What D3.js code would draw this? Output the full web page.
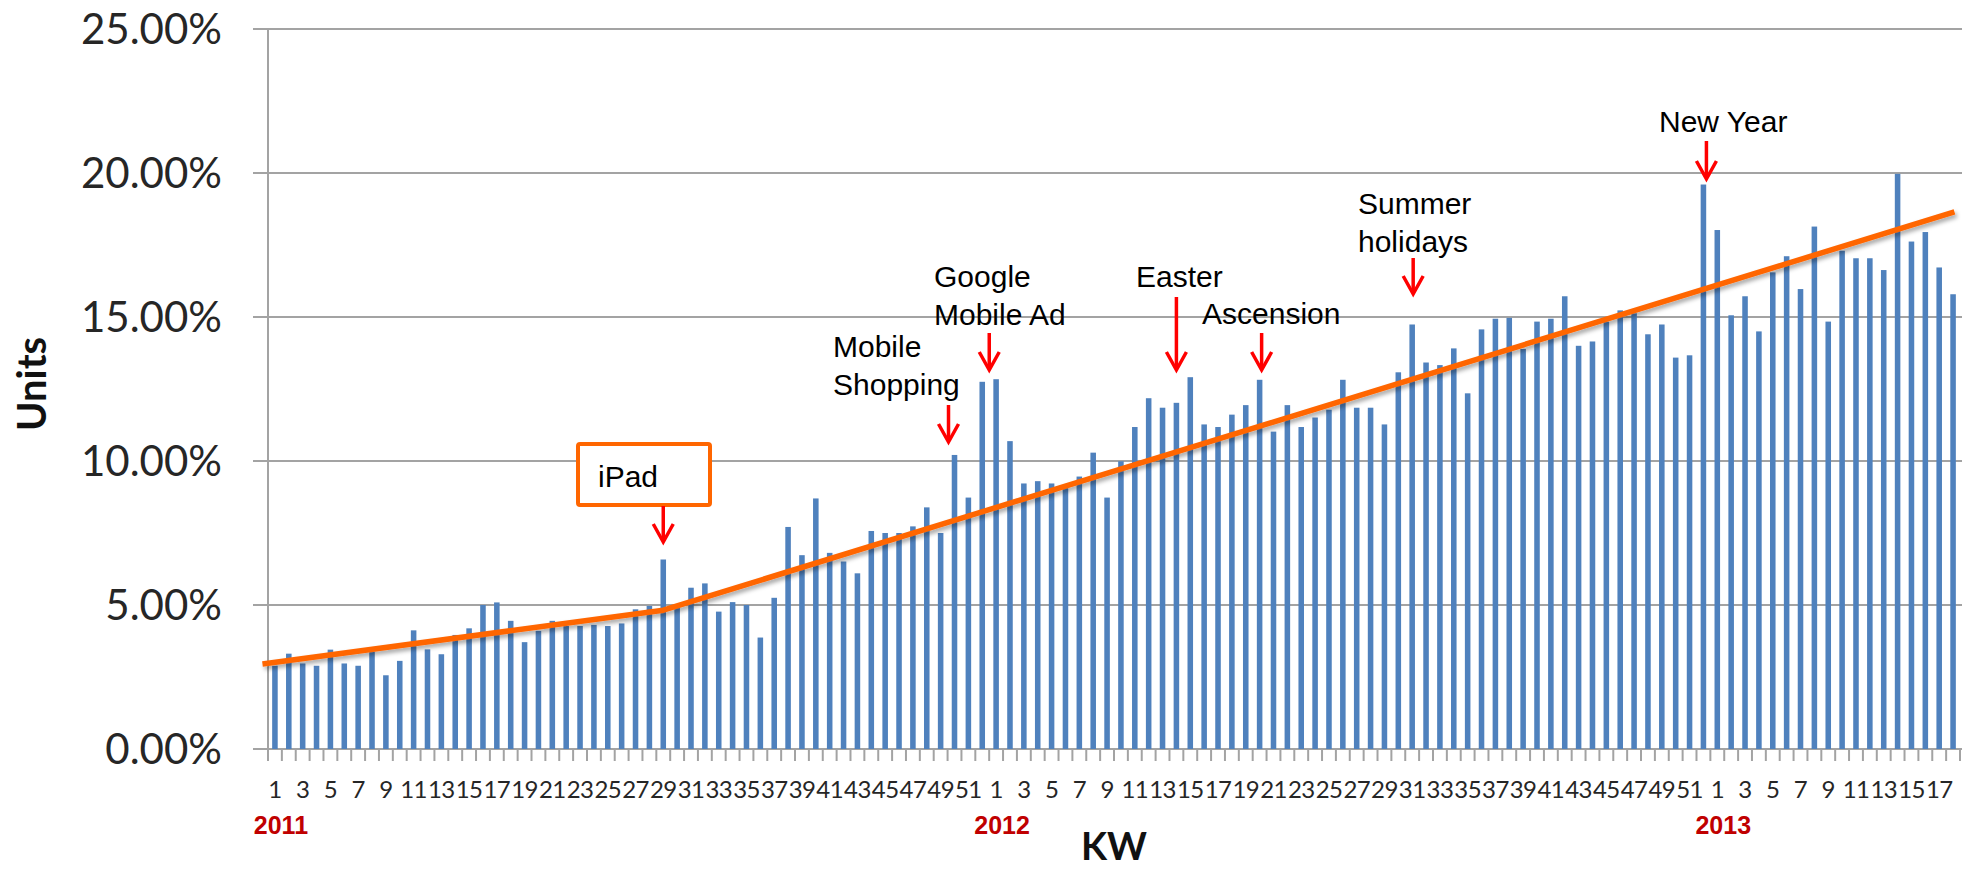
<!DOCTYPE html>
<html lang="en">
<head>
<meta charset="UTF-8">
<title>Units per KW</title>
<script src="https://d3js.org/d3.v7.min.js"></script>
<style>
  html, body { margin: 0; padding: 0; background: #fff; }
  svg { display: block; }
</style>
</head>
<body>
<div id="chart"></div>
<script>
// years shown and how many weeks of each
const years = [2011, 2012, 2013];
const weeksPerYear = [52, 52, 18];

// weekly share (%)
const units2011 = [2.89, 3.31, 2.97, 2.89, 3.45, 2.97, 2.89, 3.38, 2.56, 3.06, 4.12, 3.46, 3.29,
  3.96, 4.19, 5.00, 5.09, 4.45, 3.71, 4.10, 4.45, 4.27, 4.27, 4.31, 4.27, 4.36, 4.85, 4.97,
  6.58, 4.91, 5.60, 5.75, 4.77, 5.10, 5.00, 3.87, 5.25, 7.71, 6.73, 8.70, 6.81, 6.51, 6.10,
  7.57, 7.50, 7.50, 7.73, 8.39, 7.50, 10.21, 8.73, 12.75];
const units2012 = [12.84, 10.69, 9.22, 9.30, 9.22, 9.06, 9.46, 10.29, 8.73, 9.99, 11.18, 12.18,
  11.85, 12.02, 12.91, 11.27, 11.18, 11.61, 11.94, 12.82, 11.02, 11.94, 11.18, 11.51, 11.78,
  12.82, 11.85, 11.85, 11.27, 13.08, 14.74, 13.42, 13.33, 13.91, 12.35, 14.57, 14.94, 14.97,
  13.89, 14.84, 14.94, 15.72, 14.00, 14.15, 14.84, 15.23, 15.13, 14.40, 14.74, 13.59, 13.67, 19.60];
const units2013 = [18.02, 15.06, 15.72, 14.50, 16.55, 17.11, 15.97, 18.14, 14.84, 17.30, 17.04,
  17.04, 16.63, 19.97, 17.62, 17.95, 16.72, 15.79];

// hand drawn trend line: knots as (week index, %)
const trendIdx = [-0.9, 28, 121.1];
const trendVal = [2.95, 4.82, 18.65];

const yTicks = [0, 5, 10, 15, 20, 25];

// event notes: label lines and the week index the arrow points at
const noteText = [["iPad"], ["Mobile", "Shopping"], ["Google", "Mobile Ad"], ["Easter"],
  ["Ascension"], ["Summer", "holidays"], ["New Year"]];
const noteIdx = [28, 49, 51, 65, 71, 82, 103];

// ---- layout (pixels) ----
const W = 1972, H = 869;
const plotL = 268, plotR = 1960, plotT = 29, plotB = 749;
const noteLayout = [
  {tx: 598, ty: 487, dx: 0, y1: 506, y2: 542},
  {tx: 833, ty: 357, dx: -6, y1: 405, y2: 442},
  {tx: 934, ty: 287, dx: 7, y1: 333, y2: 370},
  {tx: 1136, ty: 287, dx: 0, y1: 297, y2: 370},
  {tx: 1202, ty: 324, dx: 2, y1: 333, y2: 370},
  {tx: 1358, ty: 214, dx: 1, y1: 258, y2: 294},
  {tx: 1659, ty: 132, dx: 3, y1: 141, y2: 179}
];

const allUnits = units2011.concat(units2012, units2013);
const weekLabels = [];
const yearStart = [];
weeksPerYear.forEach(n => {
  yearStart.push(weekLabels.length);
  d3.range(1, n + 1).forEach(w => weekLabels.push(w));
});
const data = allUnits.map((v, i) => ({i: i, week: weekLabels[i], v: v}));

const svg = d3.select("#chart").append("svg")
  .attr("width", W).attr("height", H)
  .attr("viewBox", "0 0 " + W + " " + H);

const defs = svg.append("defs");
defs.append("filter").attr("id", "shadow")
  .attr("x", "-5%").attr("y", "-20%").attr("width", "110%").attr("height", "140%")
  .append("feDropShadow")
  .attr("dx", 2).attr("dy", 3).attr("stdDeviation", 2)
  .attr("flood-color", "#000").attr("flood-opacity", 0.35);

const x = d3.scaleBand()
  .domain(d3.range(allUnits.length))
  .range([plotL, plotR])
  .paddingInner(0.6)
  .paddingOuter(0.3);
const step = x.step();
const xc = i => plotL + (i + 0.5) * step;

const y = d3.scaleLinear().domain([0, 25]).range([plotB, plotT]);

// gridlines
svg.append("g").selectAll("line")
  .data(yTicks)
  .join("line")
  .attr("x1", plotL - 15).attr("x2", plotR + 2)
  .attr("y1", d => y(d)).attr("y2", d => y(d))
  .attr("stroke", "#a3a3a3").attr("stroke-width", 2);

// y axis line
svg.append("line")
  .attr("x1", plotL).attr("x2", plotL)
  .attr("y1", y(25)).attr("y2", plotB)
  .attr("stroke", "#a3a3a3").attr("stroke-width", 2);

// y tick labels
svg.append("g").selectAll("text")
  .data(yTicks)
  .join("text")
  .attr("x", 222).attr("y", d => y(d) + 15)
  .attr("text-anchor", "end")
  .attr("font-family", "Lato, 'Open Sans', sans-serif")
  .attr("font-size", 42)
  .attr("fill", "#262626")
  .text(d => d3.format(".2f")(d) + "%");

// x category tick marks
svg.append("g").selectAll("line")
  .data(d3.range(allUnits.length + 1))
  .join("line")
  .attr("x1", d => plotL + d * step).attr("x2", d => plotL + d * step)
  .attr("y1", plotB).attr("y2", plotB + 12)
  .attr("stroke", "#a3a3a3").attr("stroke-width", 2);

// bars
svg.append("g").selectAll("rect")
  .data(data)
  .join("rect")
  .attr("x", d => x(d.i))
  .attr("width", x.bandwidth())
  .attr("y", d => y(d.v))
  .attr("height", d => y(0) - y(d.v))
  .attr("fill", "#4f81bd");

// x week labels (odd weeks)
svg.append("g").selectAll("text")
  .data(data.filter(d => d.week % 2 === 1))
  .join("text")
  .attr("x", d => xc(d.i))
  .attr("y", 798)
  .attr("text-anchor", "middle")
  .attr("font-family", "Lato, 'Open Sans', sans-serif")
  .attr("font-size", 24)
  .attr("letter-spacing", -0.6)
  .attr("fill", "#262626")
  .text(d => d.week);

// year labels
svg.append("g").selectAll("text")
  .data(years)
  .join("text")
  .attr("x", (d, k) => xc(yearStart[k]) + 6)
  .attr("y", 834)
  .attr("text-anchor", "middle")
  .attr("font-family", "'Liberation Sans', Arial, sans-serif")
  .attr("font-weight", "bold")
  .attr("font-size", 25)
  .attr("fill", "#c00000")
  .text(d => d);

// axis titles
svg.append("text")
  .attr("x", 1114).attr("y", 860)
  .attr("text-anchor", "middle")
  .attr("font-family", "Lato, sans-serif")
  .attr("font-weight", "bold")
  .attr("font-size", 38)
  .attr("fill", "#111")
  .text("KW");

svg.append("text")
  .attr("transform", "translate(46,384) rotate(-90)")
  .attr("text-anchor", "middle")
  .attr("font-family", "Lato, sans-serif")
  .attr("font-weight", "bold")
  .attr("font-size", 40)
  .attr("fill", "#111")
  .text("Units");

// trend line
const trend = trendIdx.map((t, k) => [xc(t), y(trendVal[k])]);
svg.append("path")
  .attr("d", d3.line()(trend))
  .attr("fill", "none")
  .attr("stroke", "#ff6600")
  .attr("stroke-width", 5.5)
  .attr("stroke-linejoin", "round")
  .attr("filter", "url(#shadow)");

// iPad box
svg.append("rect")
  .attr("x", 578).attr("y", 444)
  .attr("width", 132).attr("height", 61)
  .attr("rx", 2)
  .attr("fill", "#fff")
  .attr("stroke", "#ff6600")
  .attr("stroke-width", 4);

// notes: text + red arrows
const notes = svg.append("g");
noteText.forEach((lines, k) => {
  const L = noteLayout[k];
  const t = notes.append("text")
    .attr("font-family", "'Liberation Sans', Arial, sans-serif")
    .attr("font-size", 30)
    .attr("fill", "#000");
  lines.forEach((s, j) => {
    t.append("tspan").attr("x", L.tx).attr("y", L.ty + j * 38).text(s);
  });
  const ax = xc(noteIdx[k]) + L.dx;
  notes.append("line")
    .attr("x1", ax).attr("x2", ax)
    .attr("y1", L.y1).attr("y2", L.y2 - 2)
    .attr("stroke", "#ff0000").attr("stroke-width", 3.5);
  notes.append("path")
    .attr("d", d3.line()([[ax - 10, L.y2 - 18], [ax, L.y2], [ax + 10, L.y2 - 18]]))
    .attr("fill", "none")
    .attr("stroke", "#ff0000").attr("stroke-width", 3.5)
    .attr("stroke-linejoin", "miter");
});
</script>
</body>
</html>
